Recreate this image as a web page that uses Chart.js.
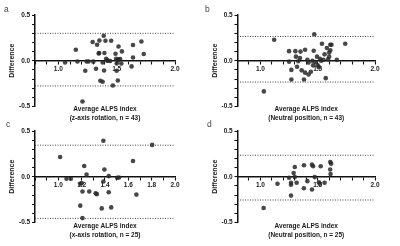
<!DOCTYPE html>
<html>
<head>
<meta charset="utf-8">
<script src="https://cdn.jsdelivr.net/npm/chart.js@4.4.1/dist/chart.umd.min.js"></script>
<style>
  html, body { margin: 0; padding: 0; background: #fff; }
  #wrap { position: relative; width: 400px; height: 246px; overflow: hidden; }
  .panel { position: absolute; width: 200px; height: 123px; }
  .panel canvas { position: absolute; left: 0; top: 0; }
  .letter { position: absolute; font: 8.5px "Liberation Sans", Arial, sans-serif; line-height: 8px; color: #444; }
</style>
</head>
<body>
<div id="wrap">
  <div class="panel" style="left:0;top:0"><canvas id="chartA" width="200" height="123"></canvas></div>
  <div class="panel" style="left:200px;top:0"><canvas id="chartB" width="200" height="123"></canvas></div>
  <div class="panel" style="left:0;top:123px"><canvas id="chartC" width="200" height="123"></canvas></div>
  <div class="panel" style="left:200px;top:123px"><canvas id="chartD" width="200" height="123"></canvas></div>
  <span class="letter" style="left:4px;top:5px">a</span>
  <span class="letter" style="left:205px;top:5px">b</span>
  <span class="letter" style="left:6px;top:120px">c</span>
  <span class="letter" style="left:207px;top:120px">d</span>
</div>
<script>
'use strict';

//panel a: z-axis rotation, n = 43
var meanA = [1.058, 1.150, 1.164, 1.231, 1.242, 1.259, 1.294, 1.323, 1.332, 1.352,
  1.346, 1.350, 1.380, 1.389, 1.404, 1.395, 1.410, 1.424, 1.444, 1.392,
  1.360, 1.380, 1.453, 1.467, 1.490, 1.516, 1.545, 1.516, 1.510, 1.530,
  1.500, 1.540, 1.510, 1.500, 1.628, 1.640, 1.640, 1.712, 1.732, 1.207,
  1.420, 1.495, 1.300];
var diffA = [-0.019, 0.120, -0.008, -0.109, -0.008, -0.008, 0.205, -0.088, 0.175, 0.222,
  0.080, 0.085, -0.019, 0.274, 0.219, 0.084, 0.022, 0.003, -0.003, -0.106,
  -0.219, -0.230, 0.219, -0.270, 0.077, 0.156, 0.102, 0.016, 0.003, 0.019,
  -0.030, -0.030, -0.216, -0.110, -0.062, 0.172, 0.036, 0.211, 0.073, -0.445,
  0.000, 0.020, -0.010];
var limitsA = [0.30, -0.275];

//panel b: neutral position, n = 43
var meanB = [1.12, 1.03, 1.25, 1.25, 1.27, 1.27, 1.305, 1.31, 1.32, 1.345,
  1.35, 1.36, 1.38, 1.39, 1.39, 1.41, 1.42, 1.42, 1.44, 1.454,
  1.46, 1.465, 1.47, 1.48, 1.494, 1.50, 1.51, 1.52, 1.53, 1.537,
  1.55, 1.56, 1.57, 1.58, 1.59, 1.60, 1.60, 1.61, 1.61, 1.62,
  1.667, 1.74, 1.33];
var diffB = [0.23, -0.335, 0.105, -0.01, -0.10, -0.205, 0.105, 0.045, -0.065, 0.03,
  0.10, -0.105, -0.205, 0.12, -0.13, 0.01, -0.02, -0.15, -0.12, 0.0,
  -0.05, 0.11, 0.29, -0.015, 0.045, -0.05, -0.07, 0.02, 0.0, 0.185,
  0.01, 0.07, -0.19, 0.14, 0.015, 0.09, 0.045, 0.115, 0.175, 0.175,
  0.01, 0.185, -0.005];
var limitsB = [0.265, -0.233];

//panel c: x-axis rotation, n = 25
var meanC = [1.015, 1.07, 1.107, 1.188, 1.20, 1.207, 1.188, 1.207, 1.222, 1.242,
  1.265, 1.32, 1.33, 1.372, 1.386, 1.386, 1.395, 1.432, 1.432, 1.453,
  1.505, 1.52, 1.64, 1.669, 1.804];
var diffC = [0.216, -0.022, -0.022, -0.077, -0.07, -0.162, -0.316, -0.452, 0.117, 0.025,
  -0.162, -0.18, -0.19, -0.346, 0.393, -0.052, 0.08, 0.007, -0.17, -0.335,
  -0.011, -0.008, 0.172, -0.195, 0.348];
var limitsC = [0.345, -0.455];

//panel d: neutral position, n = 25
var meanD = [1.028, 1.149, 1.25, 1.267, 1.267, 1.267, 1.29, 1.30, 1.30, 1.316,
  1.38, 1.379, 1.41, 1.45, 1.46, 1.45, 1.474, 1.51, 1.517, 1.526,
  1.56, 1.61, 1.617, 1.609, 1.612];
var diffD = [-0.342, -0.077, -0.011, -0.066, -0.088, -0.206, 0.04, 0.106, -0.004, -0.066,
  0.125, -0.126, -0.048, 0.132, 0.114, -0.14, -0.004, -0.06, -0.077, 0.114,
  -0.066, 0.161, 0.143, 0.08, 0.029];
var limitsD = [0.235, -0.254];

//tick labels
var yLabels = ['0.5', '0.0', '-0.5'];
var xLabelsHalf = ['1.0', '1.5', '2.0'];
var xLabelsFifth = ['1.0', '1.2', '1.4', '1.6', '1.8', '2.0'];
var xMin = 0.8;
var xMax = 2.0;

Chart.defaults.font.family = '"Liberation Sans", Arial, sans-serif';
Chart.defaults.color = '#1a1a1a';

//turn two arrays into x/y points
function toPoints(xs, ys) {
  var pts = [];
  for (var i = 0; i < xs.length; i++) {
    pts.push({x: xs[i], y: ys[i]});
  }
  return pts;
}

function limitLine(value) {
  return {
    data: [{x: xMin, y: value}, {x: xMax, y: value}],
    showLine: true,
    pointRadius: 0,
    borderColor: '#444',
    borderWidth: 1,
    borderDash: [1, 1.5]
  };
}

function labelFilter(list) {
  return function(value) {
    var s = value.toFixed(1);
    if (s === '-0.0') s = '0.0';
    return list.indexOf(s) >= 0 ? s : '';
  };
}

function makeChart(id, xs, ys, limits, xLabels, titleLines, box) {
  var ctx = document.getElementById(id).getContext('2d');
  new Chart(ctx, {
    type: 'scatter',
    data: {
      datasets: [
        {
          data: toPoints(xs, ys),
          pointRadius: 2.3,
          pointBackgroundColor: 'rgba(40,40,40,0.85)',
          pointBorderWidth: 0
        },
        limitLine(limits[0]),
        limitLine(limits[1])
      ]
    },
    options: {
      responsive: false,
      animation: false,
      layout: {padding: {left: box.left, right: 25, top: box.top, bottom: box.bottom}},
      plugins: {
        legend: {display: false},
        tooltip: {enabled: false},
        title: {
          display: true,
          position: 'bottom',
          fullSize: false,
          text: titleLines,
          color: '#1a1a1a',
          font: {size: 6.5, weight: 'bold', lineHeight: 9 / 6.5},
          padding: {top: box.titleTop, bottom: 0}
        }
      },
      scales: {
        x: {
          type: 'linear',
          position: {y: 0},
          min: xMin,
          max: xMax,
          grid: {drawOnChartArea: false, tickLength: 3, color: '#111', tickWidth: 1.1},
          border: {display: true, color: '#111', width: 1.5},
          ticks: {
            stepSize: 0.1,
            autoSkip: false,
            maxRotation: 0,
            padding: 1.5,
            font: {size: 6.5, weight: 'bold'},
            callback: labelFilter(xLabels)
          }
        },
        y: {
          type: 'linear',
          position: 'left',
          min: -0.5,
          max: 0.5,
          afterFit: function(scale) { scale.width = 35; },
          grid: {drawOnChartArea: false, tickLength: 3, color: '#111', tickWidth: 1.1},
          border: {display: true, color: '#111', width: 1.5},
          title: {
            display: true,
            text: 'Difference',
            font: {size: 7, weight: 'bold'},
            padding: {top: 8.3, bottom: 0}
          },
          ticks: {
            stepSize: 0.1,
            autoSkip: false,
            padding: 1.8,
            font: {size: 6.5, weight: 'bold'},
            callback: labelFilter(yLabels)
          }
        }
      }
    }
  });
}

makeChart('chartA', meanA, diffA, limitsA, xLabelsHalf,
  ['Average ALPS index', '(z-axis rotation, n = 43)'],
  {left: 0, top: 15, bottom: 0.5, titleTop: -2});
makeChart('chartB', meanB, diffB, limitsB, xLabelsHalf,
  ['Average ALPS index', '(Neutral position, n = 43)'],
  {left: 2.5, top: 15, bottom: 0.5, titleTop: -2});
makeChart('chartC', meanC, diffC, limitsC, xLabelsFifth,
  ['Average ALPS index', '(x-axis rotation, n = 25)'],
  {left: 0, top: 8, bottom: 6.5, titleTop: -1});
makeChart('chartD', meanD, diffD, limitsD, xLabelsHalf,
  ['Average ALPS index', '(Neutral position, n = 25)'],
  {left: 2.5, top: 8, bottom: 6.5, titleTop: -1});
</script>
</body>
</html>
